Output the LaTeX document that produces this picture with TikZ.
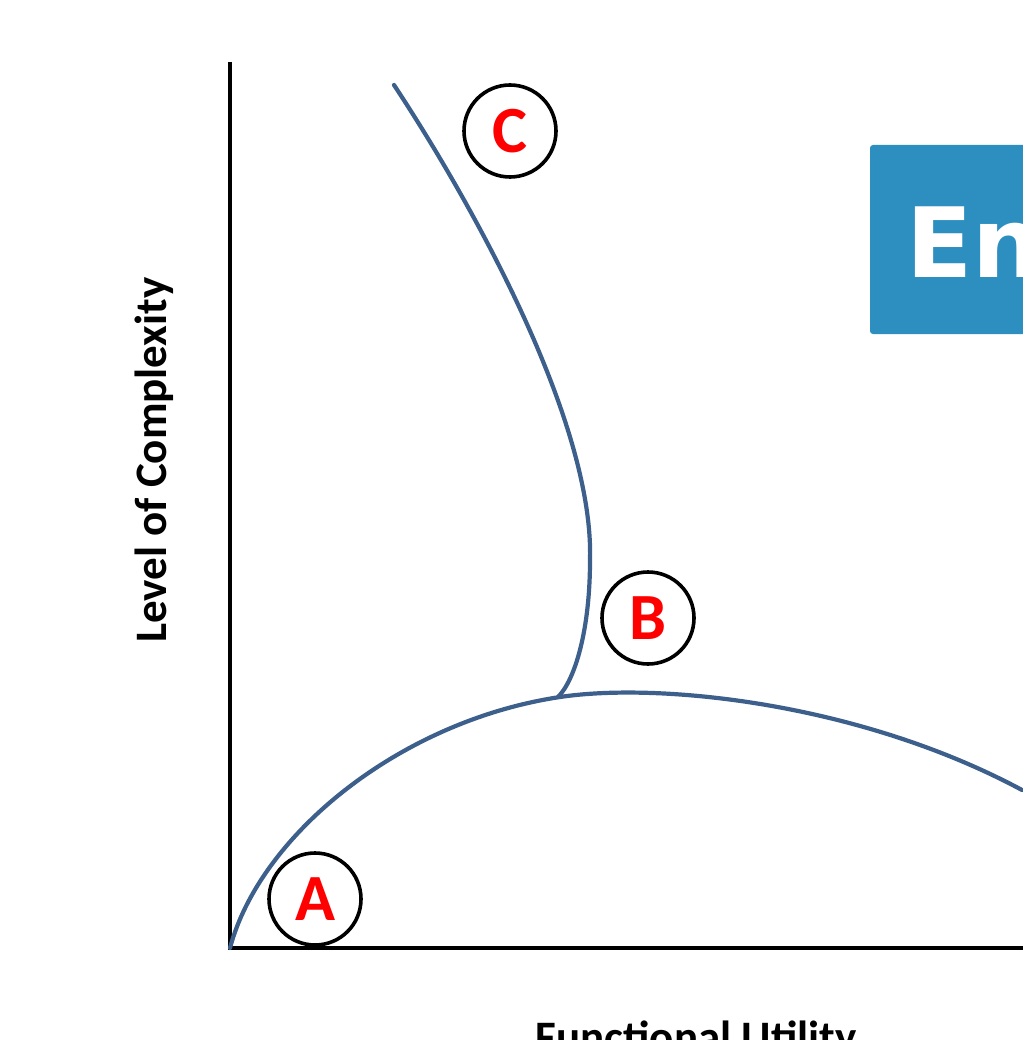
\documentclass[tikz,border=0pt]{standalone}
\usepackage{fontspec}
\setmainfont{Carlito}
\newfontfamily\boxfont{DejaVu Sans}
\usetikzlibrary{positioning}
\definecolor{curveblue}{RGB}{60,95,140}
\definecolor{boxblue}{RGB}{45,143,192}

\begin{document}
\begin{tikzpicture}[x=1pt,y=-1pt,
    marker/.style={circle, draw=black, line width=3.6pt, minimum size=92pt, inner sep=0pt,
      text=red, font=\fontsize{66}{66}\selectfont\bfseries},
    curve/.style={draw=curveblue, line width=4.2pt, line cap=round}]
                \useasboundingbox (0,0) rectangle (1022,1040);
                \coordinate (o) at (230,948);
                \coordinate (ytop) at (230,62);
                \coordinate (xend) at (1060,948);
                \coordinate (ctop) at (394,85);
                \coordinate (bend) at (590,560);
                \coordinate (meet) at (558,697);
                \coordinate (rend) at (1022,790);
                % banner, cut by the page edge
                \fill[boxblue, rounded corners=3pt] (870,145) rectangle (1100,334);
                \node[anchor=base west, text=white, font=\boxfont\fontsize{97}{97}\selectfont\bfseries] (banner) at (903,278) {En};
                % axes
                \draw[line width=4pt] (ytop) -- (o) -- (xend);
                \node[anchor=base, rotate=90, font=\fontsize{45}{45}\selectfont\bfseries] (ylabel) at (166,460) {Level of Complexity};
                \node[anchor=base, font=\fontsize{45}{45}\selectfont\bfseries] (xlabel) at (696,1052) {Functional Utility};
                % curves
                \draw[curve] (o) .. controls (260,835) and (400,721) .. (560,697)
                                 .. controls (660,682) and (860,703) .. (rend);
                \draw[curve] (ctop) .. controls (470,200) and (594,420) .. (bend)
                                    .. controls (590,630) and (575,680) .. (meet);
                % markers
                \node[marker] (A) at (315,899) {A};
                \node[marker] (B) at (648,618) {B};
                \node[marker] (C) at (510,131) {C};
            \end{tikzpicture}
\end{document}
